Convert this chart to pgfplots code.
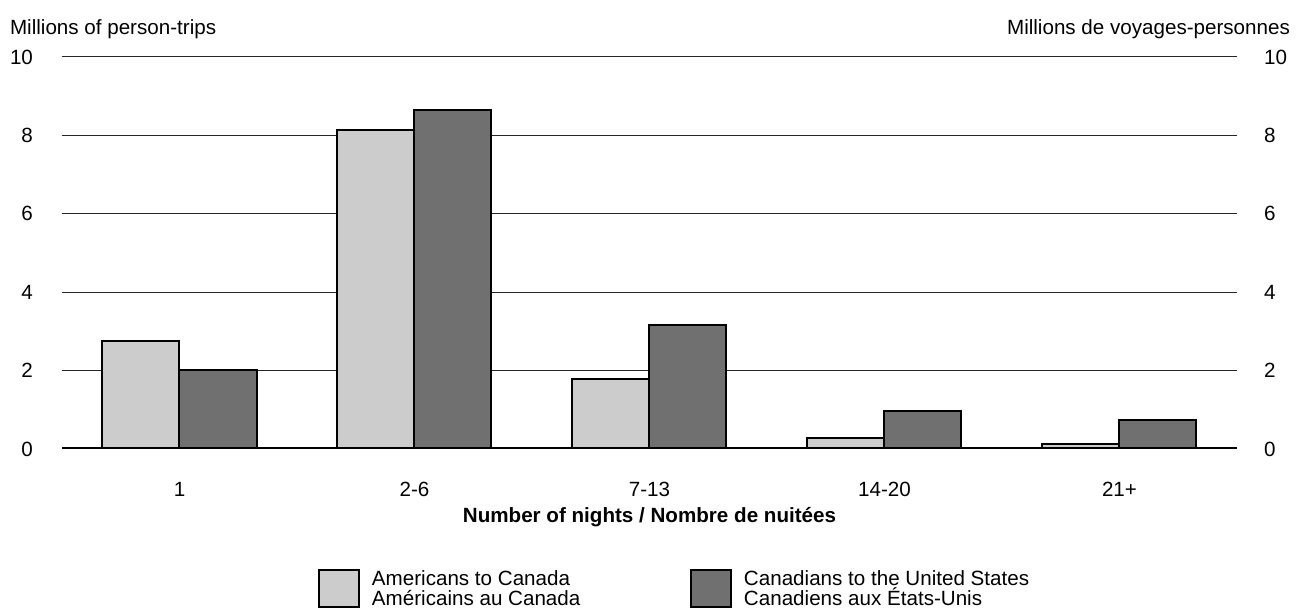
\documentclass[border=0pt]{standalone}
\usepackage{fontspec}
\setmainfont{Liberation Sans}
\usepackage{pgfplots}
\pgfplotsset{compat=1.18}
\definecolor{amlight}{HTML}{CCCCCC}
\definecolor{cadark}{HTML}{707070}
\newcommand{\chartfont}{\fontsize{10.3}{10.5}\selectfont}
\newcommand{\legfont}{\fontsize{10.3}{10}\selectfont}

\begin{document}
\begin{tikzpicture}
\useasboundingbox (0,0) rectangle (651pt,305pt);
% main axis: bars, left tick labels, x labels, legend
\begin{axis}[
    name=main,
    at={(31pt,80.5pt)}, anchor=south west,
    scale only axis,
    width=587.5pt, height=196pt,
    xmin=-0.5, xmax=4.5,
    ymin=0, ymax=10,
    ybar=0pt, bar width=38.5pt,
    xtick=data,
    xticklabels={1,2-6,7-13,14-20,21+},
    ytick={0,2,...,10},
    major tick length=0pt,
    axis line style={draw=none},
    ymajorgrids,
    grid style={black!85, line width=0.5pt},
    /pgf/number format/assume math mode=true,
    tick label style={font=\chartfont},
    yticklabel style={anchor=east, xshift=-11pt},
    xticklabel style={anchor=north, yshift=-13pt},
    xlabel={\bfseries Number of nights / Nombre de nuitées},
    xlabel style={font=\chartfont, at={(axis description cs:0.5,0)}, anchor=north, yshift=-25.5pt},
    legend columns=2,
    legend style={draw=none, inner sep=0pt, outer sep=0pt,
        at={(axis description cs:0,0)}, anchor=north west,
        xshift=128pt, yshift=-59pt, font=\chartfont,
        /tikz/every odd column/.append style={column sep=4pt},
        /tikz/every even column/.append style={column sep=0pt}},
    legend image code/.code={\draw[#1, line width=1pt] (0pt,-11.75pt) rectangle (20pt,6.75pt);},
]
\addplot[fill=amlight, draw=black, line width=1pt]
  coordinates {(0,2.75) (1,8.15) (2,1.78) (3,0.28) (4,0.13)};
\addlegendentry{\parbox[c]{157pt}{\legfont Americans to Canada\\Américains au Canada}}
\addplot[fill=cadark, draw=black, line width=1pt]
  coordinates {(0,2.02) (1,8.65) (2,3.16) (3,0.96) (4,0.73)};
\addlegendentry{\parbox[c]{160pt}{\legfont Canadians to the United States\\Canadiens aux États-Unis}}
% baseline
\draw[black, line width=1.5pt] (rel axis cs:0,0) -- (rel axis cs:1,0);
\end{axis}
% twin axis for right tick labels
\begin{axis}[
    at={(31pt,80.5pt)}, anchor=south west,
    scale only axis,
    width=587.5pt, height=196pt,
    xmin=-0.5, xmax=4.5,
    ymin=0, ymax=10,
    hide x axis,
    axis y line*=right,
    axis line style={draw=none},
    ytick={0,2,...,10},
    major tick length=0pt,
    /pgf/number format/assume math mode=true,
    tick label style={font=\chartfont},
    yticklabel style={anchor=west, xshift=10pt},
]
\end{axis}
% unit labels
\node[font=\chartfont, anchor=base west] at ([xshift=-29.5pt, yshift=11pt]main.north west) {Millions of person-trips};
\node[font=\chartfont, anchor=base east] at ([xshift=30pt, yshift=11pt]main.north east) {Millions de voyages-personnes};
\end{tikzpicture}
\end{document}
